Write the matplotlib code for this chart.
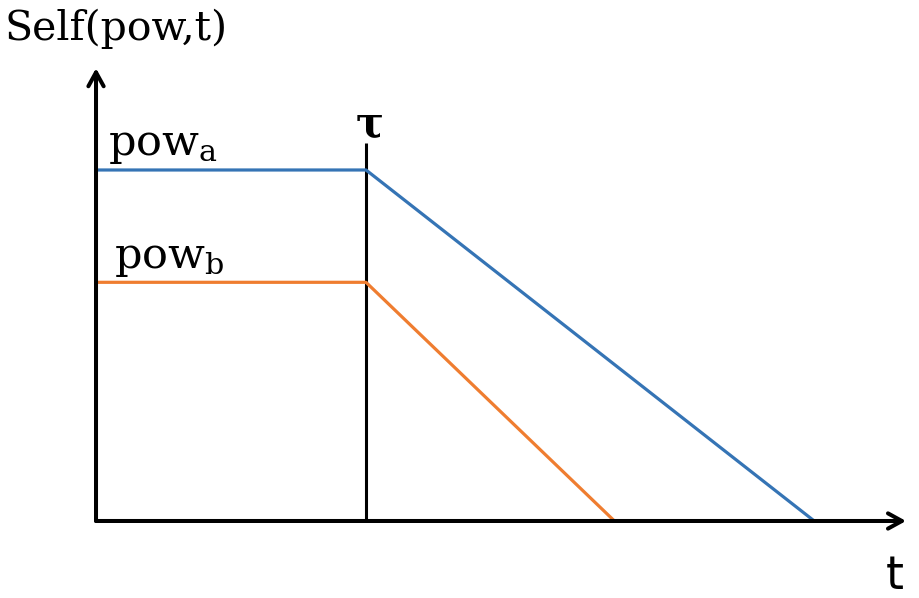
import matplotlib
matplotlib.use("Agg")
import matplotlib.pyplot as plt

plt.rcParams['font.family'] = 'DejaVu Serif'
plt.rcParams['mathtext.fontset'] = 'dejavuserif'

# schematic values (tau = 1, pow_a = 1)
tau = 1.0
tau_top = 1.077
t_max = 3.0
y_max = 1.29
pow_levels = [1.0, 0.68]
end_times = [2.66, 1.92]
colors = ['#3574b5', '#ef7d30']
labels = [r'$\mathregular{pow_a}$', r'$\mathregular{pow_b}$']
label_x = [0.045, 0.065]
label_y = [1.043, 0.721]


def main():
    fig = plt.figure(figsize=(9.19, 5.98), dpi=100)
    ax = fig.add_axes([0, 0, 1, 1])
    ax.set_xlim(-0.3556, 3.048)
    ax.set_ylim(-0.2194, 1.4843)
    ax.axis('off')

    # axes arrows
    arrow = dict(arrowstyle='->,head_length=1.0,head_width=0.55', lw=2.9,
                 color='black', shrinkA=0, shrinkB=0)
    ax.annotate('', xy=(t_max, 0), xytext=(0, 0), arrowprops=arrow)
    ax.annotate('', xy=(0, y_max), xytext=(0, 0), arrowprops=arrow)

    # tau marker
    ax.plot([tau, tau], [0, tau_top], color='black', lw=2.2,
            solid_capstyle='butt')
    ax.text(tau + 0.01, 1.094, r'$\mathregular{\tau}$', fontsize=30,
            fontweight='bold', ha='center', va='baseline')

    for p, te, c, lab, lx, ly in zip(pow_levels, end_times, colors, labels,
                                     label_x, label_y):
        ax.plot([0, tau, te], [p, p, 0], color=c, lw=2.3,
                solid_capstyle='butt')
        ax.text(lx, ly, lab, fontsize=31, ha='left', va='baseline')

    ax.text(-0.34, 1.370, 'Self(pow,t)', fontsize=29.5, ha='left',
            va='baseline')
    ax.text(2.96, -0.195, 't', fontsize=33, family='DejaVu Sans',
            ha='center', va='baseline')

    fig.savefig('out.png', dpi=100)


if __name__ == "__main__":
    main()
